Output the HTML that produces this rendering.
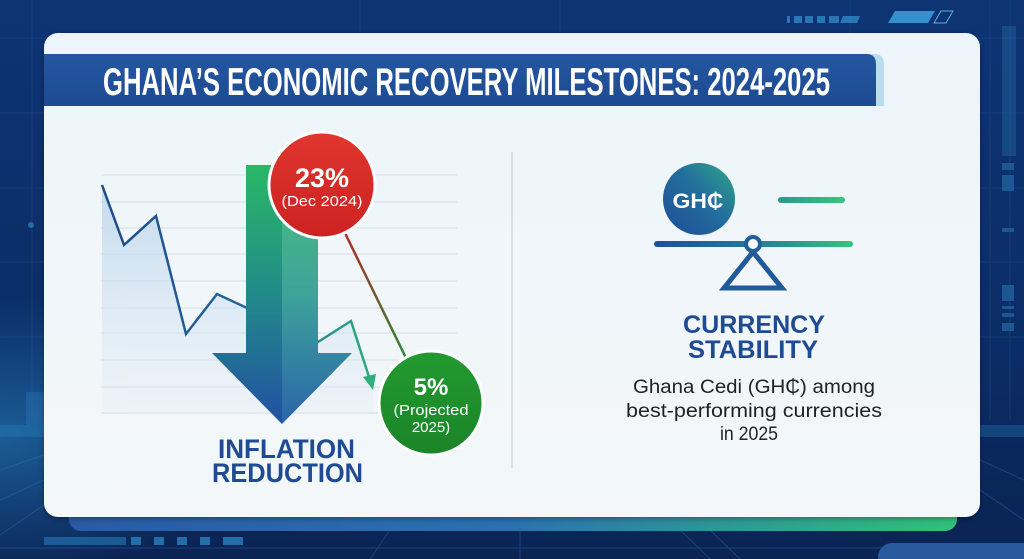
<!DOCTYPE html>
<html>
<head>
<meta charset="utf-8">
<style>
html,body{margin:0;padding:0;background:#0b2a5e;}
svg{display:block;}
text{font-family:"Liberation Sans",sans-serif;}
</style>
</head>
<body>
<svg width="1024" height="559" viewBox="0 0 1024 559" xmlns="http://www.w3.org/2000/svg">
<defs>
  <linearGradient id="bg" x1="0" y1="0" x2="0" y2="1">
    <stop offset="0" stop-color="#0e3474"/>
    <stop offset="0.6" stop-color="#0b2d66"/>
    <stop offset="1" stop-color="#0a2454"/>
  </linearGradient>
  <radialGradient id="glowL" cx="0" cy="0.78" r="0.25">
    <stop offset="0" stop-color="#2a86c4" stop-opacity="0.55"/>
    <stop offset="1" stop-color="#2a86c4" stop-opacity="0"/>
  </radialGradient>
  <linearGradient id="bar" x1="0" y1="0" x2="1" y2="0">
    <stop offset="0" stop-color="#2a5aa8"/>
    <stop offset="0.5" stop-color="#2a72b0"/>
    <stop offset="1" stop-color="#30c27a"/>
  </linearGradient>
  <linearGradient id="banner" x1="0" y1="0" x2="0" y2="1">
    <stop offset="0" stop-color="#2456a0"/>
    <stop offset="1" stop-color="#1d4b92"/>
  </linearGradient>
  <linearGradient id="card" x1="0" y1="0" x2="0" y2="1">
    <stop offset="0" stop-color="#edf5fa"/>
    <stop offset="1" stop-color="#f3f7f9"/>
  </linearGradient>
  <linearGradient id="area" x1="0" y1="0" x2="0" y2="1">
    <stop offset="0" stop-color="#bcd5ec" stop-opacity="0.85"/>
    <stop offset="1" stop-color="#dbe8f3" stop-opacity="0.2"/>
  </linearGradient>
  <linearGradient id="lineg" x1="100" y1="0" x2="380" y2="0" gradientUnits="userSpaceOnUse">
    <stop offset="0" stop-color="#1d4a8c"/>
    <stop offset="0.55" stop-color="#23689a"/>
    <stop offset="1" stop-color="#2fae7c"/>
  </linearGradient>
  <linearGradient id="shaftL" x1="0" y1="165" x2="0" y2="424" gradientUnits="userSpaceOnUse">
    <stop offset="0" stop-color="#2ab866"/>
    <stop offset="0.5" stop-color="#228a8a"/>
    <stop offset="1" stop-color="#2250a2"/>
  </linearGradient>
  <linearGradient id="shaftR" x1="0" y1="165" x2="0" y2="424" gradientUnits="userSpaceOnUse">
    <stop offset="0" stop-color="#47c07c"/>
    <stop offset="0.5" stop-color="#3ea39a"/>
    <stop offset="1" stop-color="#2a64aa"/>
  </linearGradient>
  <linearGradient id="red" x1="0" y1="0" x2="0" y2="1">
    <stop offset="0" stop-color="#e0362e"/>
    <stop offset="1" stop-color="#cc2222"/>
  </linearGradient>
  <linearGradient id="conn" x1="345" y1="235" x2="405" y2="358" gradientUnits="userSpaceOnUse">
    <stop offset="0" stop-color="#b42a26"/>
    <stop offset="1" stop-color="#2a8a36"/>
  </linearGradient>
  <linearGradient id="green" x1="0" y1="0" x2="0" y2="1">
    <stop offset="0" stop-color="#239a30"/>
    <stop offset="1" stop-color="#1b8428"/>
  </linearGradient>
  <linearGradient id="gh" x1="0" y1="1" x2="1" y2="0">
    <stop offset="0" stop-color="#1f4c98"/>
    <stop offset="0.55" stop-color="#236e9c"/>
    <stop offset="1" stop-color="#2ea88a"/>
  </linearGradient>
  <linearGradient id="beam" x1="657" y1="0" x2="850" y2="0" gradientUnits="userSpaceOnUse">
    <stop offset="0" stop-color="#1f4f9a"/>
    <stop offset="0.5" stop-color="#237a9a"/>
    <stop offset="1" stop-color="#34c27a"/>
  </linearGradient>
  <linearGradient id="dash" x1="781" y1="0" x2="842" y2="0" gradientUnits="userSpaceOnUse">
    <stop offset="0" stop-color="#2a9a8e"/>
    <stop offset="1" stop-color="#36c47c"/>
  </linearGradient>
  <filter id="sh" x="-5%" y="-5%" width="110%" height="110%">
    <feDropShadow dx="0" dy="2" stdDeviation="3" flood-color="#000" flood-opacity="0.3"/>
  </filter>
</defs>

<!-- background -->
<rect width="1024" height="559" fill="url(#bg)"/>
<rect width="1024" height="559" fill="url(#glowL)"/>
<g stroke="#2a5c9a" stroke-width="1" opacity="0.35">
  <line x1="0" y1="38" x2="1024" y2="38"/>
  <line x1="0" y1="113" x2="1024" y2="113"/>
  <line x1="0" y1="188" x2="1024" y2="188"/>
  <line x1="0" y1="262" x2="1024" y2="262"/>
  <line x1="0" y1="337" x2="1024" y2="337"/>
  <line x1="32" y1="0" x2="32" y2="420"/>
  <line x1="990" y1="0" x2="990" y2="420"/>
  <line x1="1010" y1="0" x2="1010" y2="420"/>
  <line x1="360" y1="0" x2="360" y2="33"/>
  <line x1="560" y1="0" x2="560" y2="33"/>
  <line x1="850" y1="0" x2="850" y2="33"/>
</g>
<!-- floor perspective lines -->
<g stroke="#3a7ac0" stroke-width="1" opacity="0.35">
  <line x1="0" y1="470" x2="44" y2="455"/>
  <line x1="0" y1="500" x2="44" y2="480"/>
  <line x1="0" y1="535" x2="44" y2="505"/>
  <line x1="980" y1="460" x2="1024" y2="480"/>
  <line x1="980" y1="490" x2="1024" y2="520"/>
  <line x1="390" y1="530" x2="370" y2="559"/>
  <line x1="520" y1="530" x2="520" y2="559"/>
  <line x1="680" y1="530" x2="710" y2="559"/>
  <line x1="710" y1="530" x2="740" y2="559"/>
  <line x1="0" y1="548" x2="1024" y2="548"/>
</g>
<rect x="0" y="425" width="44" height="12" fill="#2a8ac8" opacity="0.3"/>
<rect x="980" y="425" width="44" height="12" fill="#2a8ac8" opacity="0.3"/>
<circle cx="31" cy="225" r="3" fill="#3a8ed0" opacity="0.6"/>
<rect x="26" y="392" width="18" height="33" fill="#2a7fbf" opacity="0.35"/>

<!-- top right deco -->
<g fill="#2a7fbf" opacity="0.9">
  <rect x="787" y="16" width="3" height="7"/>
  <rect x="794" y="16" width="8" height="7"/>
  <rect x="805" y="16" width="8" height="7"/>
  <rect x="817" y="16" width="8" height="7"/>
  <rect x="829" y="16" width="10" height="7"/>
  <polygon points="843,16 860,16 857,23 840,23"/>
  <polygon points="895,11 935,11 928,23 888,23" fill="#3a9ad8"/>
</g>
<polygon points="941,11 953,11 946,23 934,23" fill="none" stroke="#5aaee0" stroke-width="1"/>
<!-- right deco -->
<g fill="#1e5c98" opacity="0.9">
  <rect x="1002" y="26" width="14" height="130" opacity="0.6"/>
  <rect x="1002" y="163" width="12" height="7"/>
  <rect x="1002" y="175" width="12" height="16"/>
  <rect x="1002" y="228" width="12" height="4"/>
  <rect x="1002" y="285" width="12" height="16"/>
  <rect x="1002" y="306" width="12" height="3"/>
  <rect x="1002" y="313" width="12" height="4"/>
  <rect x="1002" y="323" width="12" height="8"/>
</g>
<!-- bottom left deco -->
<g fill="#2a7fbf" opacity="0.8">
  <rect x="44" y="537" width="82" height="8" opacity="0.7"/>
  <rect x="131" y="537" width="10" height="8"/>
  <rect x="154" y="537" width="10" height="8"/>
  <rect x="177" y="537" width="10" height="8"/>
  <rect x="200" y="537" width="10" height="8"/>
  <rect x="223" y="537" width="20" height="8"/>
</g>
<!-- bottom right blob -->
<rect x="878" y="543" width="170" height="30" rx="14" fill="#2a5a9e"/>

<!-- gradient bar under card -->
<rect x="69" y="505" width="888" height="26" rx="12" fill="url(#bar)"/>

<!-- card -->
<rect x="44" y="33" width="936" height="484" rx="14" fill="url(#card)" filter="url(#sh)"/>

<!-- title banner -->
<path d="M44,54 H874 Q884,54 884,64 V106 H44 Z" fill="#b9dcef"/>
<path d="M44,54 H866 Q876,54 876,64 V106 H44 Z" fill="url(#banner)"/>
<text x="103" y="95" font-size="39" font-weight="bold" fill="#ffffff" textLength="727" lengthAdjust="spacingAndGlyphs">GHANA’S ECONOMIC RECOVERY MILESTONES: 2024-2025</text>

<!-- chart gridlines -->
<g stroke="#d4dee7" stroke-width="1">
  <line x1="101" y1="175" x2="457" y2="175"/>
  <line x1="101" y1="202" x2="457" y2="202"/>
  <line x1="101" y1="228" x2="457" y2="228"/>
  <line x1="101" y1="254" x2="457" y2="254"/>
  <line x1="101" y1="281" x2="457" y2="281"/>
  <line x1="101" y1="308" x2="457" y2="308"/>
  <line x1="101" y1="333" x2="457" y2="333"/>
  <line x1="101" y1="360" x2="457" y2="360"/>
  <line x1="101" y1="387" x2="457" y2="387"/>
  <line x1="101" y1="413" x2="457" y2="413"/>
</g>
<!-- area -->
<polygon points="102,185 124,245 156,216 186,334 217,294 247,308 318,342 351,321 373,387 373,413 102,413" fill="url(#area)"/>
<!-- line -->
<polyline points="102,185 124,245 156,216 186,334 217,294 247,308 318,342 351,321 370,380" fill="none" stroke="url(#lineg)" stroke-width="2.5" stroke-linejoin="miter"/>
<polygon points="373,390 363,377 376,374" fill="#2fae7c"/>

<!-- big arrow -->
<rect x="246" y="165" width="36" height="189" fill="url(#shaftL)"/>
<rect x="282" y="165" width="36" height="189" fill="url(#shaftR)"/>
<polygon points="212,353 282,353 282,424" fill="url(#shaftL)"/>
<polygon points="282,353 352,353 282,424" fill="url(#shaftR)"/>

<!-- connector -->
<line x1="345" y1="233" x2="407" y2="360" stroke="url(#conn)" stroke-width="2.5"/>

<!-- red circle -->
<circle cx="322" cy="185" r="53" fill="url(#red)" stroke="#ffffff" stroke-width="3"/>
<text x="322" y="187" font-size="27" font-weight="bold" fill="#ffffff" text-anchor="middle">23%</text>
<text x="322" y="206" font-size="15" fill="#ffffff" text-anchor="middle" textLength="81" lengthAdjust="spacingAndGlyphs">(Dec 2024)</text>

<!-- green circle -->
<circle cx="431" cy="403" r="52" fill="url(#green)" stroke="#ffffff" stroke-width="3"/>
<text x="431" y="395" font-size="24" font-weight="bold" fill="#ffffff" text-anchor="middle">5%</text>
<text x="431" y="415" font-size="15" fill="#ffffff" text-anchor="middle" textLength="75" lengthAdjust="spacingAndGlyphs">(Projected</text>
<text x="431" y="432" font-size="15" fill="#ffffff" text-anchor="middle">2025)</text>

<!-- inflation label -->
<text x="218" y="458" font-size="27" font-weight="bold" fill="#1f4a94" textLength="137" lengthAdjust="spacingAndGlyphs">INFLATION</text>
<text x="212" y="482" font-size="27" font-weight="bold" fill="#1f4a94" textLength="151" lengthAdjust="spacingAndGlyphs">REDUCTION</text>

<!-- divider -->
<line x1="512" y1="152" x2="512" y2="468" stroke="#c9d1d9" stroke-width="1.2"/>

<!-- currency icon -->
<circle cx="699" cy="199" r="36" fill="url(#gh)"/>
<text x="698" y="208" font-size="21" font-weight="bold" fill="#ffffff" text-anchor="middle" textLength="51" lengthAdjust="spacingAndGlyphs">GH₵</text>
<line x1="781" y1="200" x2="842" y2="200" stroke="url(#dash)" stroke-width="6" stroke-linecap="round"/>
<line x1="657" y1="244" x2="850" y2="244" stroke="url(#beam)" stroke-width="6" stroke-linecap="round"/>
<polygon points="753,252 724,288 782,288" fill="none" stroke="#1f5a9a" stroke-width="5" stroke-linejoin="miter"/>
<circle cx="753" cy="244" r="9" fill="#1f5f9c"/>
<circle cx="753" cy="244" r="5" fill="#ffffff"/>

<!-- currency text -->
<text x="683" y="333" font-size="25" font-weight="bold" fill="#1f4a94" textLength="142" lengthAdjust="spacingAndGlyphs">CURRENCY</text>
<text x="688" y="358" font-size="25" font-weight="bold" fill="#1f4a94" textLength="130" lengthAdjust="spacingAndGlyphs">STABILITY</text>
<text x="633" y="393" font-size="19" fill="#222222" textLength="242" lengthAdjust="spacingAndGlyphs">Ghana Cedi (GH₵) among</text>
<text x="626" y="417" font-size="19" fill="#222222" textLength="256" lengthAdjust="spacingAndGlyphs">best-performing currencies</text>
<text x="720" y="440" font-size="19" fill="#222222" textLength="58" lengthAdjust="spacingAndGlyphs">in 2025</text>
</svg>
</body>
</html>
